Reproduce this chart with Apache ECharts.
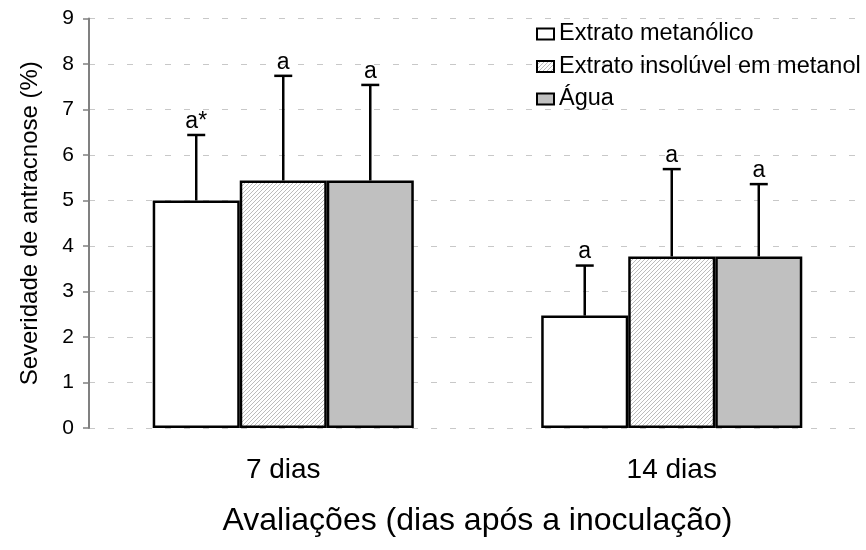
<!DOCTYPE html>
<html>
<head>
<meta charset="utf-8">
<script src="https://cdn.jsdelivr.net/npm/echarts@6/dist/echarts.min.js"></script>
<style>html,body{margin:0;padding:0;background:#fff}#c{width:866px;height:550px}</style>
</head>
<body>
<div id="c"></div>
<script>
const categories = ['7 dias', '14 dias'];
const seriesNames = ['Extrato metanólico', 'Extrato insolúvel em metanol', 'Água'];
const metanolico = [5.0, 2.47];
const insoluvel = [5.44, 3.77];
const agua = [5.44, 3.77];
const upperMetanolico = [6.44, 3.57];
const upperInsoluvel = [7.74, 5.69];
const upperAgua = [7.54, 5.36];
const letrasMetanolico = ['a*', 'a'];
const letrasInsoluvel = ['a', 'a'];
const letrasAgua = ['a', 'a'];
const yTicks = [0, 1, 2, 3, 4, 5, 6, 7, 8, 9];

const FONT = 'Liberation Sans, Arial, sans-serif';
const BAR_FRAC = 0.224;

// hatch pattern
const pc = document.createElement('canvas');
pc.width = 4; pc.height = 4;
const px = pc.getContext('2d');
px.fillStyle = '#ffffff'; px.fillRect(0, 0, 4, 4);
px.strokeStyle = '#bcbcbc'; px.lineWidth = 1;
px.beginPath();
px.moveTo(-1, 5); px.lineTo(5, -1);
px.moveTo(-3, 3); px.lineTo(3, -3);
px.moveTo(1, 7); px.lineTo(7, 1);
px.stroke();
const hatch = { image: pc, repeat: 'repeat' };

const fills = ['#ffffff', hatch, '#c0c0c0'];
const means = [metanolico, insoluvel, agua];
const uppers = [upperMetanolico, upperInsoluvel, upperAgua];
const letters = [letrasMetanolico, letrasInsoluvel, letrasAgua];

const series = [];
seriesNames.forEach((name, i) => {
  series.push({
    name: name, type: 'bar', data: means[i],
    barWidth: (BAR_FRAC * 100) + '%', barGap: '0%',
    itemStyle: { color: fills[i], borderColor: '#000', borderWidth: 2.5 },
    emphasis: { disabled: true }
  });
});
seriesNames.forEach((name, i) => {
  const offset = i - 1;
  series.push({
    type: 'custom', silent: true, z: 5,
    data: categories.map((c, ci) => [ci, means[i][ci], uppers[i][ci]]),
    renderItem: function (params, api) {
      const ci = api.value(0);
      const band = api.size([1, 0])[0];
      const cx = api.coord([ci, 0])[0] + offset * band * BAR_FRAC;
      const y0 = api.coord([ci, api.value(1)])[1];
      const y1 = api.coord([ci, api.value(2)])[1];
      const lbl = letters[i][ci];
      return {
        type: 'group',
        children: [
          { type: 'line', shape: { x1: cx, y1: y0, x2: cx, y2: y1 }, style: { stroke: '#000', lineWidth: 2.5 } },
          { type: 'line', shape: { x1: cx - 9, y1: y1, x2: cx + 9, y2: y1 }, style: { stroke: '#000', lineWidth: 2.5 } },
          { type: 'text', x: cx, y: y1 - 2, style: { text: lbl, fill: '#000', font: '23px ' + FONT, textAlign: 'center', textVerticalAlign: 'bottom' } }
        ]
      };
    }
  });
});

const chart = echarts.init(document.getElementById('c'), null, { renderer: 'canvas' });
chart.setOption({
  animation: false,
  textStyle: { fontFamily: FONT },
  grid: { left: 89, right: 0, top: 18.5, bottom: 122 },
  legend: {
    data: seriesNames, orient: 'vertical', left: 531, top: 17,
    icon: 'rect', itemWidth: 17, itemHeight: 11, itemGap: 8.5,
    textStyle: { fontSize: 23.5, color: '#000', fontFamily: FONT },
    itemStyle: { borderColor: '#000', borderWidth: 2 }
  },
  xAxis: {
    type: 'category', data: categories,
    name: 'Avaliações (dias após a inoculação)', nameLocation: 'middle', nameGap: 77,
    nameTextStyle: { fontSize: 32, color: '#000', fontFamily: FONT },
    axisLine: { show: false }, axisTick: { show: false },
    axisLabel: { fontSize: 28, color: '#000', margin: 28 },
    splitLine: { show: false }
  },
  yAxis: {
    type: 'value', min: yTicks[0], max: yTicks[yTicks.length - 1], interval: 1,
    name: 'Severidade de antracnose (%)', nameLocation: 'middle', nameGap: 47, nameRotate: 90,
    nameTextStyle: { fontSize: 24, color: '#000', fontFamily: FONT },
    axisLine: { show: true, lineStyle: { color: '#808080', width: 2 } },
    axisTick: { show: true, inside: false, length: 6, lineStyle: { color: '#808080', width: 1.5 } },
    axisLabel: { fontSize: 21, color: '#000', margin: 15 },
    splitLine: { show: true, lineStyle: { color: '#c8c8c8', width: 1, type: [6, 13] } }
  },
  series: series
});
</script>
</body>
</html>
